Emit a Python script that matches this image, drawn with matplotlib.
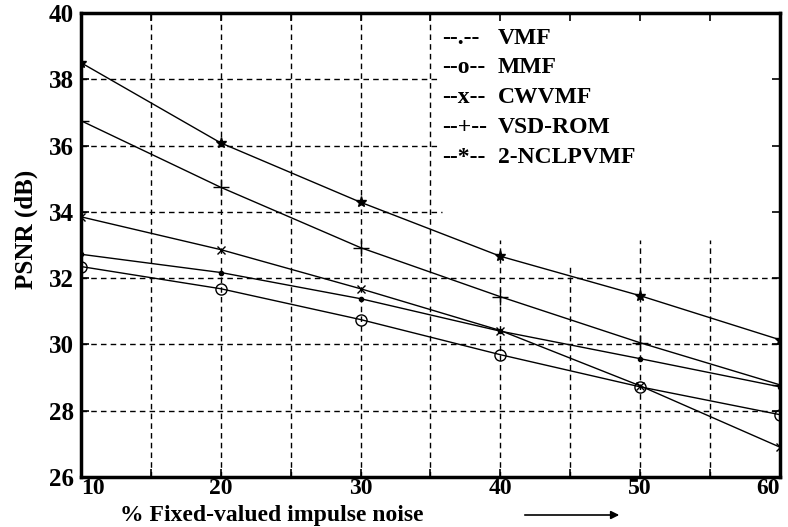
import matplotlib
matplotlib.use('Agg')
import matplotlib.pyplot as plt

# noise level (%)
noise = [10, 20, 30, 40, 50, 60]

# PSNR (dB) per filter
vmf = [32.72, 32.17, 31.38, 30.40, 29.57, 28.72]
mmf = [32.35, 31.68, 30.75, 29.69, 28.72, 27.88]
cwvmf = [33.85, 32.86, 31.68, 30.42, 28.75, 26.90]
vsd_rom = [36.75, 34.74, 32.92, 31.44, 30.05, 28.78]
nclpvmf = [38.50, 36.08, 34.29, 32.66, 31.47, 30.14]

series = [
    ('VMF', vmf, '.', '--.--'),
    ('MMF', mmf, 'o', '--o--'),
    ('CWVMF', cwvmf, 'x', '--x--'),
    ('VSD-ROM', vsd_rom, '+', '--+--'),
    ('2-NCLPVMF', nclpvmf, '*', '--*--'),
]

xticks = [10, 20, 30, 40, 50, 60]
yticks = [26, 28, 30, 32, 34, 36, 38, 40]

plt.rcParams['font.family'] = ['Liberation Serif', 'DejaVu Serif']
plt.rcParams['font.weight'] = 'bold'

fig = plt.figure(figsize=(7.88, 5.27), dpi=100)
ax = fig.add_axes([0.1028, 0.0949, 0.887, 0.8804])

# grid drawn by hand: the upper right corner is left blank for the key
dash = (0, (4, 3))
vgrid = [(15, 40), (20, 40), (25, 40), (30, 40), (35, 40),
         (40, 33.15), (45, 32.4), (50, 33.15), (55, 33.15)]
hgrid = [(28, 60), (30, 60), (32, 60), (34, 35.8), (36, 35.5), (38, 35.5)]
for x, top in vgrid:
    ax.plot([x, x], [26, top], color='black', lw=1.0, linestyle=dash, zorder=1)
for y, right in hgrid:
    ax.plot([10, right], [y, y], color='black', lw=1.0, linestyle=dash, zorder=1)

msize = {'.': 6, 'o': 8, 'x': 6, '+': 11, '*': 8}
for name, vals, mk, _ in series:
    ax.plot(noise, vals, color='black', lw=1.0, marker=mk, markersize=msize[mk],
            markerfacecolor='none' if mk == 'o' else 'black',
            markeredgecolor='black', markeredgewidth=1.0, zorder=3)

ax.set_xlim(10, 60)
ax.set_ylim(26, 40)
ax.set_xticks(xticks)
ax.set_xticks([15, 25, 35, 45, 55], minor=True)
ax.set_yticks(yticks)
ax.tick_params(axis='both', which='both', direction='in', top=True, right=True,
               length=6, width=1.2, labelsize=18)
ax.tick_params(axis='x', pad=1, labelsize=17)
ax.tick_params(axis='y', pad=5)
xlabels = ax.get_xticklabels()
xlabels[0].set_horizontalalignment('left')
xlabels[-1].set_horizontalalignment('right')
for s in ax.spines.values():
    s.set_linewidth(2.5)

# key written as plain text, like the original
for i, (name, vals, mk, code) in enumerate(series):
    py = 38 + 29.8 * i
    yf = (477 - py) / 464.0
    ax.text(0.516, yf, code, transform=ax.transAxes, fontsize=17,
            fontweight='bold', va='center', ha='left')
    ax.text(0.596, yf, name, transform=ax.transAxes, fontsize=17,
            fontweight='bold', va='center', ha='left')

fig.text(0.033, 0.565, 'PSNR (dB)', rotation=90, fontsize=18,
         fontweight='bold', va='center', ha='center')
fig.text(120 / 788, 1 - 515 / 527, '% Fixed-valued impulse noise', fontsize=17,
         fontweight='bold', va='center', ha='left')
fig.patches.append(matplotlib.patches.FancyArrowPatch(
    (522 / 788, 1 - 515 / 527), (622 / 788, 1 - 515 / 527),
    transform=fig.transFigure, arrowstyle='-|>', mutation_scale=12,
    color='black', lw=1.2))

fig.savefig('out.png', dpi=100)
